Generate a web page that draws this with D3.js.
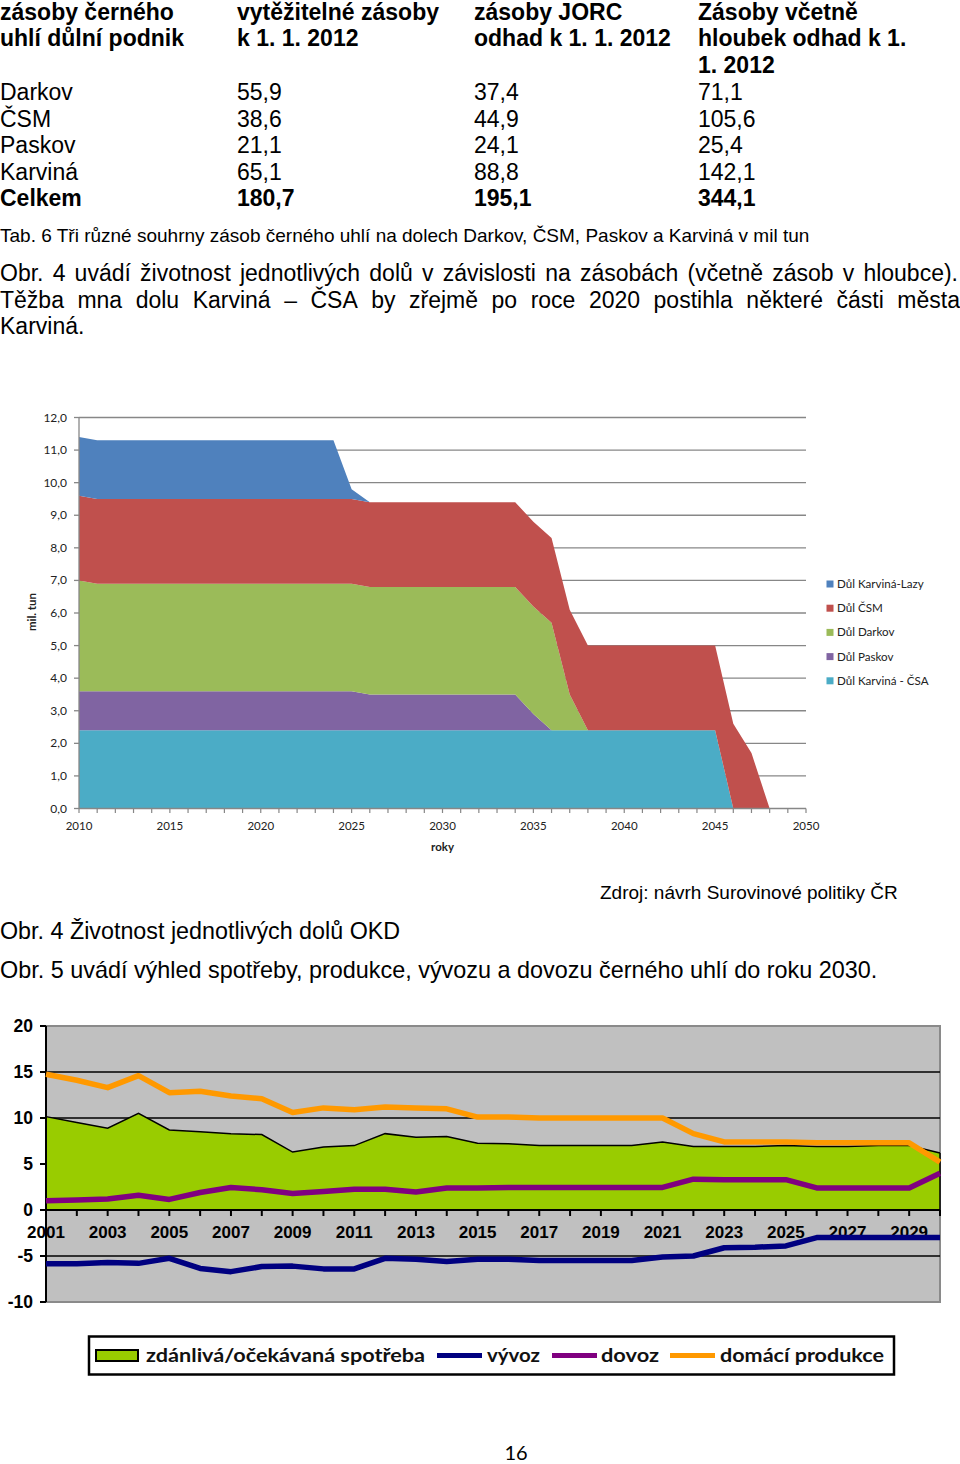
<!DOCTYPE html>
<html><head><meta charset="utf-8">
<script src="https://cdn.jsdelivr.net/npm/d3@7"></script>
<style>body{margin:0;background:#fff}svg{display:block}</style>
</head><body>
<script>
// ---------------- Table data ----------------
const tableHeaders = [
  ["zásoby černého", "uhlí důlní podnik"],
  ["vytěžitelné zásoby", "k 1. 1. 2012"],
  ["zásoby JORC", "odhad k 1. 1. 2012"],
  ["Zásoby včetně", "hloubek odhad k 1.", "1. 2012"]
];
const tableRows = ["Darkov", "ČSM", "Paskov", "Karviná", "Celkem"];
const reservesMineable = ["55,9", "38,6", "21,1", "65,1", "180,7"];
const reservesJorc = ["37,4", "44,9", "24,1", "88,8", "195,1"];
const reservesDepth = ["71,1", "105,6", "25,4", "142,1", "344,1"];

// ---------------- Chart 1 (Obr. 4) data ----------------
const years1 = [2010,2011,2012,2013,2014,2015,2016,2017,2018,2019,
                2020,2021,2022,2023,2024,2025,2026,2027,2028,2029,
                2030,2031,2032,2033,2034,2035,2036,2037,2038,2039,
                2040,2041,2042,2043,2044,2045,2046,2047,2048,2049,2050];
const mineKeys = ["csa", "paskov", "darkov", "csm", "lazy"];
const mineLabels = {lazy: "Důl Karviná-Lazy", csm: "Důl ČSM", darkov: "Důl Darkov", paskov: "Důl Paskov", csa: "Důl Karviná - ČSA"};
const csa =    [2.4,2.4,2.4,2.4,2.4,2.4,2.4,2.4,2.4,2.4, 2.4,2.4,2.4,2.4,2.4,2.4,2.4,2.4,2.4,2.4,
                2.4,2.4,2.4,2.4,2.4,2.4,2.4,2.4,2.4,2.4, 2.4,2.4,2.4,2.4,2.4,2.4,0,0,0,0, 0];
const paskov = [1.2,1.2,1.2,1.2,1.2,1.2,1.2,1.2,1.2,1.2, 1.2,1.2,1.2,1.2,1.2,1.2,1.1,1.1,1.1,1.1,
                1.1,1.1,1.1,1.1,1.1,0.5,0,0,0,0, 0,0,0,0,0,0,0,0,0,0, 0];
const darkov = [3.4,3.3,3.3,3.3,3.3,3.3,3.3,3.3,3.3,3.3, 3.3,3.3,3.3,3.3,3.3,3.3,3.3,3.3,3.3,3.3,
                3.3,3.3,3.3,3.3,3.3,3.3,3.3,1.1,0,0, 0,0,0,0,0,0,0,0,0,0, 0];
const csm =    [2.6,2.6,2.6,2.6,2.6,2.6,2.6,2.6,2.6,2.6, 2.6,2.6,2.6,2.6,2.6,2.6,2.6,2.6,2.6,2.6,
                2.6,2.6,2.6,2.6,2.6,2.6,2.6,2.6,2.6,2.6, 2.6,2.6,2.6,2.6,2.6,2.6,2.6,1.7,0,0, 0];
const lazy =   [1.8,1.8,1.8,1.8,1.8,1.8,1.8,1.8,1.8,1.8, 1.8,1.8,1.8,1.8,1.8,0.3,0,0,0,0,
                0,0,0,0,0,0,0,0,0,0, 0,0,0,0,0,0,0,0,0,0, 0];
const yTicks1 = [0,1,2,3,4,5,6,7,8,9,10,11,12];
const xTicks1 = [2010,2015,2020,2025,2030,2035,2040,2045,2050];

// ---------------- Chart 2 (Obr. 5) data ----------------
const years2 = [2001,2002,2003,2004,2005,2006,2007,2008,2009,2010,
                2011,2012,2013,2014,2015,2016,2017,2018,2019,2020,
                2021,2022,2023,2024,2025,2026,2027,2028,2029,2030];
const spotreba = [10.15,9.5,8.9,10.5,8.7,8.5,8.3,8.2,6.3,6.85,
                  7.0,8.3,7.9,8.0,7.25,7.2,7.0,7.0,7.0,7.0,
                  7.4,6.9,6.9,6.9,7.0,6.9,6.9,7.0,7.0,6.2];
const vyvoz = [-5.85,-5.85,-5.7,-5.8,-5.25,-6.35,-6.7,-6.15,-6.1,-6.4,
               -6.4,-5.25,-5.35,-5.6,-5.35,-5.35,-5.5,-5.5,-5.5,-5.5,
               -5.1,-5.0,-4.1,-4.05,-3.9,-3.0,-3.0,-3.0,-3.0,-3.0];
const dovoz = [1.0,1.1,1.2,1.6,1.15,1.9,2.45,2.2,1.8,2.0,
               2.25,2.25,1.95,2.4,2.4,2.45,2.45,2.45,2.45,2.45,
               2.45,3.35,3.3,3.3,3.3,2.4,2.4,2.4,2.4,4.0];
const produkce = [14.75,14.1,13.3,14.6,12.75,12.9,12.4,12.1,10.6,11.1,
                  10.9,11.2,11.1,11.0,10.1,10.1,10.0,10.0,10.0,10.0,
                  10.0,8.3,7.4,7.4,7.4,7.3,7.3,7.3,7.3,5.2];
const yTicks2 = [-10,-5,0,5,10,15,20];
const xLabels2 = [2001,2003,2005,2007,2009,2011,2013,2015,2017,2019,2021,2023,2025,2027,2029];
const legend2 = ["zdánlivá/očekávaná spotřeba", "vývoz", "dovoz", "domácí produkce"];

// ---------------- Page texts ----------------
const tabCaption = "Tab. 6 Tři různé souhrny zásob černého uhlí na dolech Darkov, ČSM, Paskov a Karviná v mil tun";
const para1 = ["Obr. 4 uvádí životnost jednotlivých dolů v závislosti na zásobách (včetně zásob v hloubce).",
               "Těžba mna dolu Karviná – ČSA by zřejmě po roce 2020 postihla některé části města",
               "Karviná."];
const sourceText = "Zdroj: návrh Surovinové politiky ČR";
const fig4Caption = "Obr. 4 Životnost jednotlivých dolů OKD";
const para2 = "Obr. 5 uvádí výhled spotřeby, produkce, vývozu a dovozu černého uhlí do roku 2030.";
const pageNum = "16";

// =====================================================
const W = 960, H = 1464;
const svg = d3.select("body").append("svg").attr("width", W).attr("height", H);
svg.append("rect").attr("width", W).attr("height", H).attr("fill", "#fff");
const SANS = "'Liberation Sans', Arial, sans-serif";
const CAL = "Lato, 'Open Sans', sans-serif";

// ---- table ----
const colX = [0, 237, 474, 698];
const tbl = svg.append("g").attr("font-family", SANS).attr("font-size", 23).attr("fill", "#000");
tableHeaders.forEach((lines, c) => lines.forEach((t, i) =>
  tbl.append("text").attr("x", colX[c]).attr("y", 20 + i * 26.3).attr("font-weight", "bold").text(t)));
const cols = [tableRows, reservesMineable, reservesJorc, reservesDepth];
cols.forEach((arr, c) => arr.forEach((t, r) =>
  tbl.append("text").attr("x", colX[c]).attr("y", 100 + r * 26.5)
     .attr("font-weight", r === arr.length - 1 ? "bold" : "normal").text(t)));

// ---- texts ----
function justify(text, x0, x1, y, size) {
  const words = text.split(" ");
  const g = svg.append("g").attr("font-family", SANS).attr("font-size", size);
  const nodes = words.map(w => g.append("text").attr("y", y).text(w));
  const widths = nodes.map(n => n.node().getComputedTextLength());
  const total = d3.sum(widths);
  const gap = (x1 - x0 - total) / (words.length - 1);
  let x = x0;
  nodes.forEach((n, i) => { n.attr("x", x); x += widths[i] + gap; });
}
svg.append("text").attr("x", 0).attr("y", 242).attr("font-family", SANS).attr("font-size", 19).text(tabCaption);
justify(para1[0], 0, 958, 281, 23);
justify(para1[1], 0, 960, 307.5, 23);
svg.append("text").attr("x", 0).attr("y", 334).attr("font-family", SANS).attr("font-size", 23).text(para1[2]);
svg.append("text").attr("x", 600).attr("y", 899).attr("font-family", SANS).attr("font-size", 19).text(sourceText);
svg.append("text").attr("x", 0).attr("y", 939).attr("font-family", SANS).attr("font-size", 23.3).text(fig4Caption);
svg.append("text").attr("x", 0).attr("y", 978).attr("font-family", SANS).attr("font-size", 23.4).text(para2);
svg.append("text").attr("x", 516).attr("y", 1460).attr("text-anchor", "middle").attr("font-family", CAL).attr("font-size", 20).text(pageNum);

// ---- Chart 1 ----
const c1 = svg.append("g");
const x1 = d3.scaleLinear().domain([2010, 2050]).range([79, 806]);
const y1 = d3.scaleLinear().domain([0, 12]).range([808.5, 417.5]);
const gridCol = "#878787";
c1.selectAll("line.g").data(yTicks1.filter(d => d > 0)).join("line")
  .attr("x1", x1(2010)).attr("x2", x1(2050)).attr("y1", d => y1(d)).attr("y2", d => y1(d))
  .attr("stroke", gridCol).attr("stroke-width", 1.3);
const rows1 = years1.map((yr, i) => ({year: yr, csa: csa[i], paskov: paskov[i], darkov: darkov[i], csm: csm[i], lazy: lazy[i]}));
const stack = d3.stack().keys(mineKeys)(rows1);
const mineColors = {csa: "#4BACC6", paskov: "#8064A2", darkov: "#9BBB59", csm: "#C0504D", lazy: "#4F81BD"};
const area1 = d3.area().x(d => x1(d.data.year)).y0(d => y1(d[0])).y1(d => y1(d[1]));
c1.selectAll("path.a").data(stack).join("path").attr("d", area1).attr("fill", d => mineColors[d.key]);
// axes
c1.append("line").attr("x1", x1(2010)).attr("x2", x1(2010)).attr("y1", y1(12)).attr("y2", y1(0)).attr("stroke", gridCol).attr("stroke-width", 1.3);
c1.append("line").attr("x1", x1(2010)).attr("x2", x1(2050)).attr("y1", y1(0)).attr("y2", y1(0)).attr("stroke", gridCol).attr("stroke-width", 1.3);
c1.selectAll("line.yt").data(yTicks1).join("line").attr("x1", 74).attr("x2", 79).attr("y1", d => y1(d)).attr("y2", d => y1(d)).attr("stroke", gridCol).attr("stroke-width", 1.3);
c1.selectAll("line.xt").data(years1).join("line").attr("x1", d => x1(d)).attr("x2", d => x1(d)).attr("y1", y1(0)).attr("y2", y1(0) + 4.5).attr("stroke", gridCol).attr("stroke-width", 1.2);
const csFmt = d3.formatLocale({decimal: ",", thousands: " ", grouping: [3], currency: ["", ""]}).format(".1f");
c1.selectAll("text.yl").data(yTicks1).join("text").attr("x", 67).attr("y", d => y1(d) + 4)
  .attr("text-anchor", "end").attr("font-family", CAL).attr("font-size", 12).attr("fill", "#222").text(d => csFmt(d));
c1.selectAll("text.xl").data(xTicks1).join("text").attr("x", d => x1(d)).attr("y", 830)
  .attr("text-anchor", "middle").attr("font-family", CAL).attr("font-size", 11.5).attr("fill", "#222").text(d => d);
c1.append("text").attr("x", x1(2030)).attr("y", 851).attr("text-anchor", "middle").attr("font-family", CAL)
  .attr("font-size", 11.5).attr("font-weight", "bold").attr("fill", "#222").text("roky");
c1.append("text").attr("transform", "translate(36,612) rotate(-90)").attr("text-anchor", "middle").attr("font-family", CAL)
  .attr("font-size", 11.5).attr("font-weight", "bold").attr("fill", "#222").text("mil. tun");
const legOrder1 = ["lazy", "csm", "darkov", "paskov", "csa"];
legOrder1.forEach((k, i) => {
  const cy = 584 + i * 24.2;
  c1.append("rect").attr("x", 826.5).attr("y", cy - 3.5).attr("width", 7).attr("height", 7).attr("fill", mineColors[k]);
  c1.append("text").attr("x", 837).attr("y", cy + 4).attr("font-family", CAL).attr("font-size", 11.6).attr("fill", "#222").text(mineLabels[k]);
});

// ---- Chart 2 ----
const c2 = svg.append("g");
const x2 = d3.scaleLinear().domain([2001, 2030]).range([46, 940]);
const y2 = d3.scaleLinear().domain([-10, 20]).range([1302, 1026]);
c2.append("rect").attr("x", x2(2001)).attr("y", y2(20)).attr("width", x2(2030) - x2(2001)).attr("height", y2(-10) - y2(20))
  .attr("fill", "#C0C0C0").attr("stroke", "#8a8a8a").attr("stroke-width", 2);
c2.selectAll("line.g").data([-5, 5, 10, 15]).join("line").attr("x1", x2(2001)).attr("x2", x2(2030))
  .attr("y1", d => y2(d)).attr("y2", d => y2(d)).attr("stroke", "#000").attr("stroke-width", 1.5);
const rows2 = years2.map((yr, i) => ({year: yr, spotreba: spotreba[i], vyvoz: vyvoz[i], dovoz: dovoz[i], produkce: produkce[i]}));
c2.append("path").datum(rows2).attr("fill", "#99CC00")
  .attr("d", d3.area().x(d => x2(d.year)).y0(y2(0)).y1(d => y2(d.spotreba)));
c2.append("path").datum(rows2).attr("fill", "none").attr("stroke", "#000").attr("stroke-width", 1.5)
  .attr("d", d3.line().x(d => x2(d.year)).y(d => y2(d.spotreba)));
c2.append("line").attr("x1", x2(2030)).attr("x2", x2(2030)).attr("y1", y2(0)).attr("y2", y2(spotreba[spotreba.length - 1])).attr("stroke", "#000").attr("stroke-width", 1.5);
// axes
c2.append("line").attr("x1", x2(2001)).attr("x2", x2(2001)).attr("y1", y2(20)).attr("y2", y2(-10)).attr("stroke", "#000").attr("stroke-width", 2);
c2.append("line").attr("x1", x2(2001)).attr("x2", x2(2030)).attr("y1", y2(0)).attr("y2", y2(0)).attr("stroke", "#000").attr("stroke-width", 2);
c2.selectAll("line.yt").data(yTicks2).join("line").attr("x1", 40).attr("x2", 46).attr("y1", d => y2(d)).attr("y2", d => y2(d)).attr("stroke", "#000").attr("stroke-width", 2);
c2.selectAll("line.xt").data(years2).join("line").attr("x1", d => x2(d)).attr("x2", d => x2(d)).attr("y1", y2(0)).attr("y2", y2(0) + 6).attr("stroke", "#000").attr("stroke-width", 2);
c2.selectAll("text.yl").data(yTicks2).join("text").attr("x", 33).attr("y", d => y2(d) + 6)
  .attr("text-anchor", "end").attr("font-family", SANS).attr("font-size", 17.5).attr("font-weight", "bold").text(d => d);
c2.selectAll("text.xl").data(xLabels2).join("text").attr("x", d => x2(d)).attr("y", 1237.5)
  .attr("text-anchor", "middle").attr("font-family", SANS).attr("font-size", 17).attr("font-weight", "bold").text(d => d);
const lineSeries = [{k: "dovoz", c: "#800080"}, {k: "produkce", c: "#FF9900"}, {k: "vyvoz", c: "#000080"}];
lineSeries.forEach(s => {
  c2.append("path").datum(rows2).attr("fill", "none").attr("stroke", s.c).attr("stroke-width", 5.5)
    .attr("stroke-linejoin", "round")
    .attr("d", d3.line().x(d => x2(d.year)).y(d => y2(d[s.k])));
});
// legend
const lg = svg.append("g");
lg.append("rect").attr("x", 89).attr("y", 1336.5).attr("width", 805).attr("height", 38).attr("fill", "#fff").attr("stroke", "#000").attr("stroke-width", 2.5);
lg.append("rect").attr("x", 96).attr("y", 1350).attr("width", 42).attr("height", 11).attr("fill", "#99CC00").attr("stroke", "#000").attr("stroke-width", 2);
const legItems = [
  {t: legend2[0], x: 146, w: 279},
  {t: legend2[1], x: 487, w: 53, c: "#000080", lx: 437},
  {t: legend2[2], x: 601, w: 58, c: "#800080", lx: 552},
  {t: legend2[3], x: 720, w: 164, c: "#FF9900", lx: 670}
];
legItems.forEach(d => {
  if (d.c) lg.append("line").attr("x1", d.lx).attr("x2", d.lx + 45).attr("y1", 1355.5).attr("y2", 1355.5).attr("stroke", d.c).attr("stroke-width", 5);
  lg.append("text").attr("x", d.x).attr("y", 1362).attr("font-family", CAL).attr("font-size", 19).attr("font-weight", "bold")
    .attr("fill", "#111").attr("textLength", d.w).attr("lengthAdjust", "spacingAndGlyphs").text(d.t);
});
</script>
</body></html>
